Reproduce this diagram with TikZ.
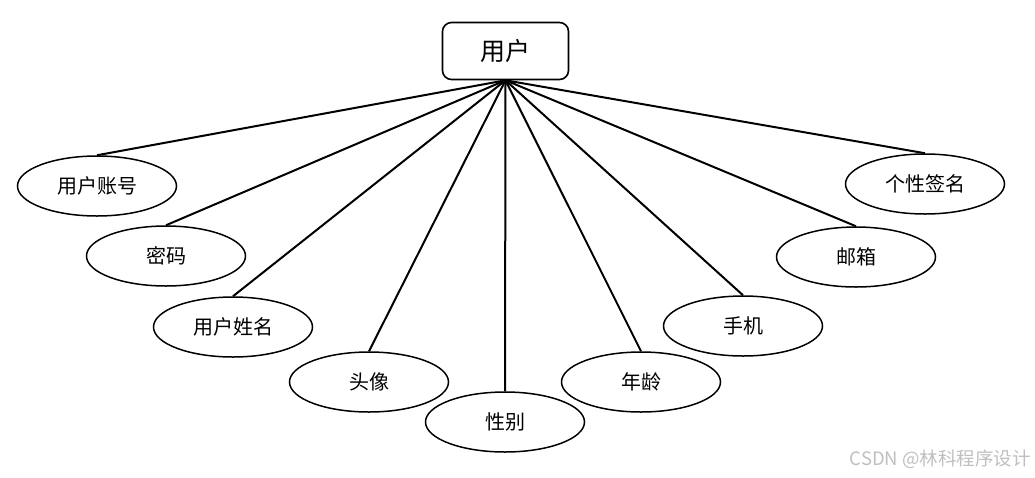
\documentclass[tikz,border=0pt]{standalone}
\usepackage{fontspec}
\newfontfamily\cjk{Noto Sans CJK SC}
\usetikzlibrary{shapes.geometric}
\begin{document}
\begin{tikzpicture}[x=1pt,y=-1pt,
  entitybox/.style={draw, line width=1.6pt, rounded corners=9pt, minimum width=126pt, minimum height=57pt, inner sep=0pt, font=\cjk\fontsize{25}{28}\selectfont},
  attr/.style={ellipse, draw, line width=1.5pt, minimum width=159pt, minimum height=60pt, inner sep=0pt, font=\cjk\fontsize{20}{24}\selectfont},
  conn/.style={line width=2pt},
  wmark/.style={text=black!25, font=\cjk\fontsize{18.5}{22}\selectfont, inner sep=0pt}]
\useasboundingbox (0,0) rectangle (1035,477);
\node[entitybox] (u) at (505.5,51) {用户};
\node[attr] (a1) at (97,186) {用户账号};
\node[attr] (a2) at (166,256) {密码};
\node[attr] (a3) at (233,327) {用户姓名};
\node[attr] (a4) at (369,382) {头像};
\node[attr] (a5) at (505,422) {性别};
\node[attr] (a6) at (641,382) {年龄};
\node[attr] (a7) at (743,326) {手机};
\node[attr] (a8) at (856,257) {邮箱};
\node[attr] (a9) at (925,184) {个性签名};
\foreach \i in {1,...,9} {\draw[conn] (u.south) -- (a\i.north);}
\node[wmark, anchor=east] (wm) at (1031,459) {CSDN @林科程序设计};
\end{tikzpicture}
\end{document}
